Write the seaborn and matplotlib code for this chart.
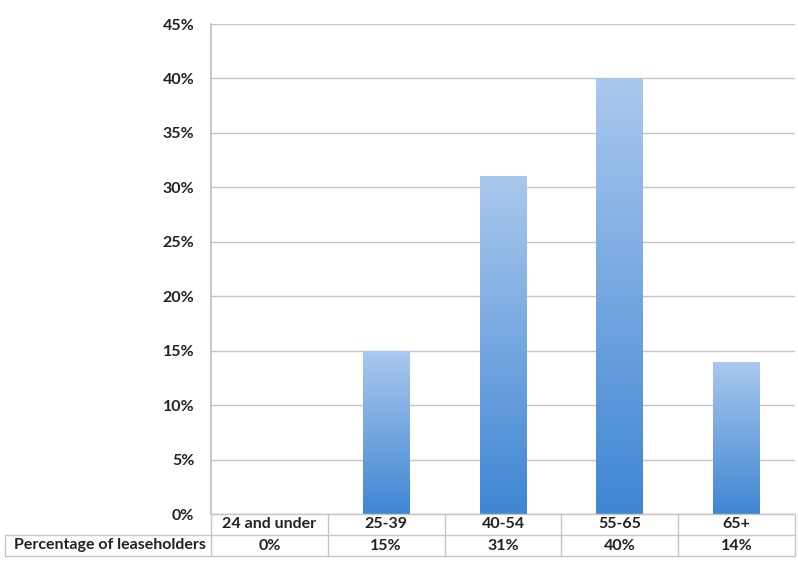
import numpy as np
import pandas as pd
import matplotlib
matplotlib.use("Agg")
import matplotlib.pyplot as plt
import seaborn as sns
from matplotlib.colors import LinearSegmentedColormap
from matplotlib.lines import Line2D

categories = ["24 and under", "25-39", "40-54", "55-65", "65+"]
values = [0, 15, 31, 40, 14]
row_label = "Percentage of leaseholders"
yticks = [0, 5, 10, 15, 20, 25, 30, 35, 40, 45]

sns.set_theme(style="white")
plt.rcParams["font.family"] = ["Lato", "DejaVu Sans"]

df = pd.DataFrame({"cat": categories, "val": values})

W, H = 798, 561
fig = plt.figure(figsize=(W / 100, H / 100), dpi=100)
L, R, T, B = 211, 795, 24, 514
ax = fig.add_axes([L / W, 1 - B / H, (R - L) / W, (B - T) / H])

sns.barplot(data=df, x="cat", y="val", ax=ax, color="#6fa3e0", width=0.4,
            edgecolor="none", saturation=1)

FS = 11.5
ax.set_ylim(0, 45)
ax.set_xlim(-0.5, len(categories) - 0.5)
ax.set_yticks(yticks)
ax.set_yticklabels([f"{t}%" for t in yticks], fontsize=FS, fontweight="bold", color="#222222")
ax.set_xticks([])
ax.set_xlabel("")
ax.set_ylabel("")
ax.yaxis.grid(True, color="#c4c4c4", linewidth=1.0)
ax.set_axisbelow(True)
for s in ["top", "right", "bottom"]:
    ax.spines[s].set_visible(False)
ax.spines["left"].set_color("#c4c4c4")
ax.tick_params(axis="y", length=4, color="#c4c4c4", pad=8)

# gradient fill clipped to each bar
cmap = LinearSegmentedColormap.from_list("g", ["#3f86d3", "#aac8ee"])
grad = np.linspace(0, 1, 256).reshape(-1, 1)
for p in ax.patches:
    x0, y0 = p.get_x(), p.get_y()
    w, h = p.get_width(), p.get_height()
    if h <= 0:
        continue
    im = ax.imshow(grad, cmap=cmap, aspect="auto", origin="lower",
                   extent=[x0, x0 + w, y0, y0 + h], zorder=p.get_zorder() + 0.1)
    im.set_clip_path(p)
ax.set_xlim(-0.5, len(categories) - 0.5)
ax.set_ylim(0, 45)

# data table below
tcol = "#c4c4c4"
r1, r2, r3 = 514, 535, 556
xl = 5
def fx(x):
    return x / W
def fy(y):
    return 1 - y / H
n = len(categories)
colw = (R - L) / n
lines = [
    ((L, R), (r1, r1)),
    ((xl, R), (r2, r2)),
    ((xl, R), (r3, r3)),
    ((xl, xl), (r2, r3)),
]
for i in range(n + 1):
    x = L + i * colw
    lines.append(((x, x), (r1, r3)))
for (xs, ys) in lines:
    fig.add_artist(Line2D([fx(xs[0]), fx(xs[1])], [fy(ys[0]), fy(ys[1])],
                          color=tcol, linewidth=1.0))
for i, (c, v) in enumerate(zip(categories, values)):
    cx = L + (i + 0.5) * colw
    fig.text(fx(cx), fy((r1 + r2) / 2), c, ha="center", va="center",
             fontsize=FS, fontweight="bold", color="#222222")
    fig.text(fx(cx), fy((r2 + r3) / 2), f"{v}%", ha="center", va="center",
             fontsize=FS, fontweight="bold", color="#222222")
fig.text(fx(L - 5), fy((r2 + r3) / 2), row_label, ha="right", va="center",
         fontsize=FS, fontweight="bold", color="#222222")

fig.savefig("out.png", dpi=100, facecolor="white")
